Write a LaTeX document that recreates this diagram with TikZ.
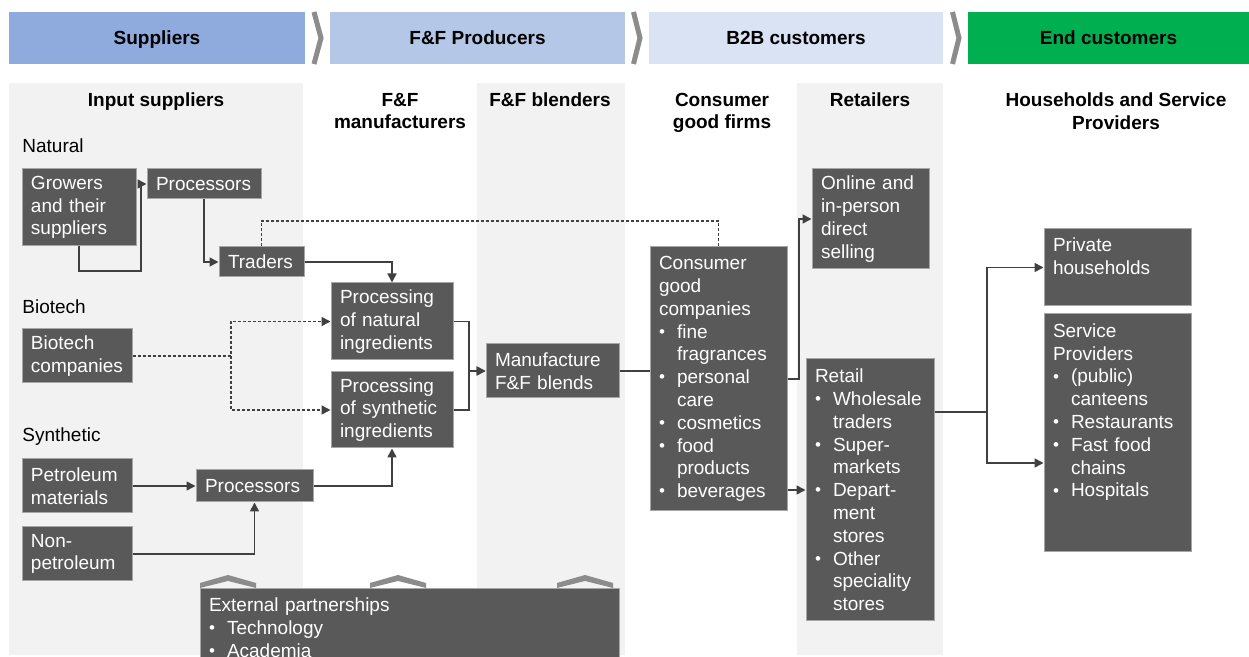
\documentclass[tikz,border=0pt]{standalone}
\usepackage{fontspec}
\setmainfont{Liberation Sans}
\usetikzlibrary{arrows.meta}

\definecolor{supblue}{HTML}{8FAADC}
\definecolor{prodblue}{HTML}{B4C7E7}
\definecolor{custblue}{HTML}{DAE3F3}
\definecolor{endgreen}{HTML}{00B050}
\definecolor{panelgray}{HTML}{F2F2F2}
\definecolor{boxfill}{HTML}{595959}
\definecolor{boxline}{HTML}{A6A6A6}
\definecolor{linkgray}{HTML}{404040}
\definecolor{sepgray}{HTML}{8C8C8C}

\newcommand{\boxfont}{\fontsize{9.5}{11.4}\selectfont}
\newcommand{\bitem}{\makebox[9pt][l]{\raisebox{0.4pt}{\fontsize{8.5}{8.5}\selectfont\textbullet}}}
\newcommand{\bcont}{\hspace*{9pt}}

\begin{document}
\begin{tikzpicture}[x=0.5pt,y=-0.5pt,
    head/.style={minimum height=26pt, inner sep=0pt, text height=6.8pt, text depth=0pt,
        font=\bfseries\boxfont},
    colhead/.style={anchor=north, inner sep=0pt, align=center, font=\bfseries\boxfont},
    sec/.style={anchor=base west, inner sep=0pt, font=\boxfont},
    box/.style 2 args={fill=boxfill, draw=boxline, line width=0.5pt, text=white,
        font=\boxfont, align=left, inner xsep=4.5pt, inner ysep=0pt,
        text width=#1, minimum height=#2},
    link/.style={draw=linkgray, line width=0.8pt},
    arr/.style={link, -{Triangle[length=4.5pt,width=4.5pt]}},
    dlink/.style={link, dash pattern=on 1.5pt off 1pt},
    darr/.style={dlink, -{Triangle[length=4.5pt,width=4.5pt]}},
    sep/.style={draw=sepgray, line width=2.5pt}]

        \useasboundingbox (0,0) rectangle (1249,657);
        \clip (0,0) rectangle (1249,657);
        \fill[white] (0,0) rectangle (1249,657);

        % column panels
        \fill[panelgray] (9,83) rectangle (303,655);
        \fill[panelgray] (477,83) rectangle (625,655);
        \fill[panelgray] (797,83) rectangle (943,655);

        % value chain stages
        \node[head, fill=supblue, minimum width=148pt] (hsup) at (157,38) {Suppliers};
        \node[head, fill=prodblue, minimum width=147.5pt] (hprod) at (477.5,38) {F\&F Producers};
        \node[head, fill=custblue, minimum width=147pt] (hb2b) at (796,38) {B2B customers};
        \node[head, fill=endgreen, minimum width=140.5pt] (hend) at (1108.5,38) {End customers};

        \draw[sep] (314,12) -- (321,38) -- (314,64);
        \draw[sep] (633.5,12) -- (640,38) -- (633.5,64);
        \draw[sep] (952.5,12) -- (959,38) -- (952.5,64);

        \node[colhead] (cin) at (156,92.5) {Input suppliers};
        \node[colhead] (cman) at (400,92.5) {F\&F\\manufacturers};
        \node[colhead] (cbl) at (550,92.5) {F\&F blenders};
        \node[colhead] (ccg) at (722,92.5) {Consumer\\good firms};
        \node[colhead] (cret) at (870,92.5) {Retailers};
        \node[colhead] (chh) at (1116,92.5) {Households and Service\\Providers};

        \node[sec] (lnat) at (22,153) {Natural};
        \node[sec] (lbio) at (22,314) {Biotech};
        \node[sec] (lsyn) at (22,442) {Synthetic};

        % input suppliers
        \node[box={48pt}{38.5pt}] (grow) at (79,207.5) {Growers\\and their\\suppliers};
        \node[box={48pt}{15pt}] (procn) at (204,184) {Processors};
        \node[box={33.5pt}{15pt}] (trad) at (261.5,262) {Traders};
        \node[box={46pt}{27pt}] (biot) at (77,356) {Biotech\\companies};
        \node[box={46pt}{27pt}] (petr) at (77,486) {Petroleum\\materials};
        \node[box={46pt}{27pt}] (nonp) at (77,554) {Non-\\petroleum};
        \node[box={49.5pt}{16pt}] (procs) at (254.5,486) {Processors};

        % producers
        \node[box={52pt}{38.5pt}] (pnat) at (392,321.5) {Processing\\of natural\\ingredients};
        \node[box={52pt}{38pt}] (psyn) at (392,410) {Processing\\of synthetic\\ingredients};
        \node[box={57.5pt}{27pt}] (blend) at (552.5,371) {Manufacture\\F\&F blends};

        % customers
        \node[box={59.5pt}{132pt}] (cons) at (718.5,379) {Consumer\\good\\companies\\
            \bitem fine\\\bcont fragrances\\\bitem personal\\\bcont care\\
            \bitem cosmetics\\\bitem food\\\bcont products\\\bitem beverages};
        \node[box={49.5pt}{50pt}] (onl) at (870.5,219) {Online and\\in-person\\direct\\selling};
        \node[box={55pt}{131pt}] (ret) at (870,490) {Retail\\
            \bitem Wholesale\\\bcont traders\\\bitem Super-\\\bcont markets\\
            \bitem Depart-\\\bcont ment\\\bcont stores\\\bitem Other\\
            \bcont speciality\\\bcont stores};
        \node[box={64.5pt}{38.5pt}] (priv) at (1117.5,267.5) {Private\\households\\\mbox{}};
        \node[box={64.5pt}{119pt}] (serv) at (1117.5,433) {Service\\Providers\\
            \bitem (public)\\\bcont canteens\\\bitem Restaurants\\\bitem Fast food\\
            \bcont chains\\\bitem Hospitals\\\mbox{}\\\mbox{}};

        % partnerships
        \foreach \cx in {228,398,585}
            \fill[sepgray] (\cx-28,583) -- (\cx,575) -- (\cx+28,583)
                -- (\cx+28,588) -- (\cx,581) -- (\cx-28,588) -- cycle;
        \node[box={200.5pt}{38.5pt}] (ext) at (409.5,627.5) {External partnerships\\
            \bitem Technology\\\bitem Academia};

        % flows
        \coordinate (gj) at (141,271);
        \coordinate (dj) at (0,221);
        \coordinate (bj) at (231,0);
        \coordinate (mj) at (469,0);
        \coordinate (cj) at (799,0);
        \coordinate (rj) at (987,412);

        \draw[arr] (grow.south) |- (gj) |- (procn.west);
        \draw[arr] (procn.south) |- (trad.west);
        \draw[arr] (trad.east) -| (pnat.north);
        \draw[dlink] (trad.north) |- (dj -| cons.north) -- (cons.north);

        \draw[darr] (biot.east) -- (bj |- biot.east) |- (pnat.west);
        \draw[darr] (bj |- biot.east) |- (psyn.west);

        \draw[arr] (petr.east) -- (procs.west);
        \draw[arr] (nonp.east) -| (procs.south);
        \draw[arr] (procs.east) -| (psyn.south);

        \draw[arr] (pnat.east) -| (mj |- blend.west) -- (blend.west);
        \draw[arr] (psyn.east) -| (mj |- blend.west) -- (blend.west);
        \draw[link] (blend.east) -- (blend.east -| cons.west);

        \draw[arr] (cons.east) -| (cj |- onl.west) -- (onl.west);
        \draw[arr] (cons.east |- ret.west) -- (ret.west);

        \draw[arr] (ret.east |- rj) -| (rj |- priv.west) -- (priv.west);
        \draw[arr] (rj) |- ([yshift=-15pt]serv.west);
\end{tikzpicture}
\end{document}
